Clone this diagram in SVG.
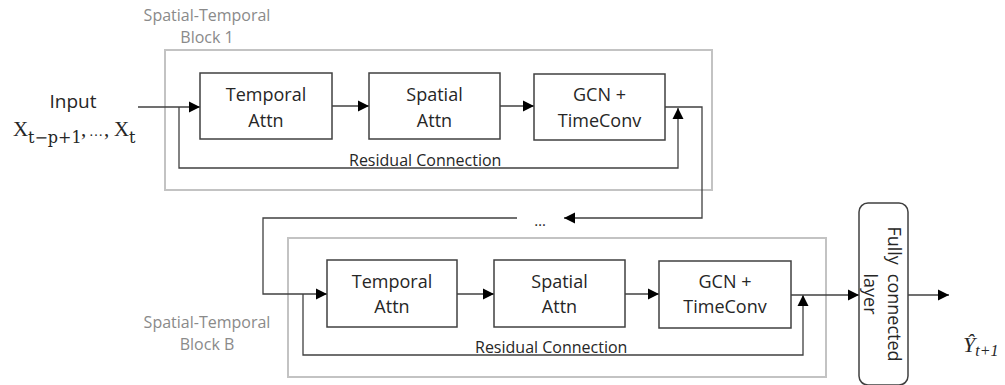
<svg xmlns="http://www.w3.org/2000/svg" width="1005" height="385" viewBox="0 0 1005 385">
  <style>
    .block { fill: none; stroke: #c3c3c3; stroke-width: 2; }
    .box { fill: #ffffff; stroke: #404040; stroke-width: 1.5; }
    .fc { fill: #ffffff; stroke: #404040; stroke-width: 1.5; }
    .wire { fill: none; stroke: #404040; stroke-width: 1.3; }
    .lbl { font-family: "Open Sans", "Noto Sans", sans-serif; font-size: 18px; fill: #262626; text-anchor: middle; }
    .grey { font-family: "Open Sans", "Noto Sans", sans-serif; font-size: 16px; fill: #8a8a8a; text-anchor: middle; }
    .res { font-family: "Open Sans", "Noto Sans", sans-serif; font-size: 16px; fill: #262626; }
    .math { font-family: "Liberation Serif", "DejaVu Serif", serif; fill: #262626; }
    .sub { font-family: "DejaVu Serif", "Liberation Serif", serif; font-size: 16px; }
  </style>
  <defs>
    <marker id="arrow" markerUnits="userSpaceOnUse" markerWidth="12" markerHeight="12" refX="11" refY="6" orient="auto">
      <path d="M0,0.5 L11,6 L0,11.5 z" fill="#000000"/>
    </marker>
  </defs>

  <!-- block outlines and their captions -->
  <g id="block-1">
    <rect class="block" x="165" y="50" width="547" height="140"/>
    <text class="grey" x="207" y="21">Spatial-Temporal</text>
    <text class="grey" x="207" y="43">Block 1</text>
  </g>
  <g id="block-b">
    <rect class="block" x="288" y="238" width="538" height="139"/>
    <text class="grey" x="207" y="328">Spatial-Temporal</text>
    <text class="grey" x="207" y="350">Block B</text>
  </g>

  <!-- input -->
  <g id="input">
    <text class="lbl" x="73" y="108" style="font-size:19px">Input</text>
    <text class="math" style="font-size:21px"><tspan x="13" y="136">X</tspan><tspan class="sub" x="28" y="143">t−p+1</tspan><tspan x="81" y="136">,</tspan><tspan x="89" y="136" font-size="14">…</tspan><tspan x="104" y="136">,</tspan><tspan x="114" y="136">X</tspan><tspan class="sub" x="129" y="143">t</tspan></text>
  </g>

  <!-- connectors -->
  <g id="connectors">
    <path class="wire" d="M138,107 H200" marker-end="url(#arrow)"/>
    <path class="wire" d="M179,107 V168 H678 V108" marker-end="url(#arrow)"/>
    <path class="wire" d="M332,106 H369" marker-end="url(#arrow)"/>
    <path class="wire" d="M500,106 H534" marker-end="url(#arrow)"/>
    <path class="wire" d="M665,107 H702 V218 H564" marker-end="url(#arrow)"/>
    <path class="wire" d="M517,218 H263 V294 H327" marker-end="url(#arrow)"/>
    <path class="wire" d="M303,294 V355 H803 V295" marker-end="url(#arrow)"/>
    <path class="wire" d="M457,294 H494" marker-end="url(#arrow)"/>
    <path class="wire" d="M625,294 H659" marker-end="url(#arrow)"/>
    <path class="wire" d="M791,295 H859" marker-end="url(#arrow)"/>
    <path class="wire" d="M908,295 H949" marker-end="url(#arrow)"/>
    <text class="res" x="349" y="166">Residual Connection</text>
    <text class="res" x="475" y="353">Residual Connection</text>
    <text class="lbl" x="540" y="226" style="font-size:15px">…</text>
  </g>

  <!-- block 1 nodes -->
  <g id="temporal-attn-1">
    <rect class="box" x="200" y="73" width="132" height="66"/>
    <text class="lbl" x="266" y="101">Temporal</text>
    <text class="lbl" x="266" y="127">Attn</text>
  </g>
  <g id="spatial-attn-1">
    <rect class="box" x="369" y="73" width="131" height="66"/>
    <text class="lbl" x="434.5" y="101">Spatial</text>
    <text class="lbl" x="434.5" y="127">Attn</text>
  </g>
  <g id="gcn-timeconv-1">
    <rect class="box" x="534" y="74" width="131" height="66"/>
    <text class="lbl" x="599.5" y="101">GCN +</text>
    <text class="lbl" x="599.5" y="127">TimeConv</text>
  </g>

  <!-- block B nodes -->
  <g id="temporal-attn-b">
    <rect class="box" x="327" y="260" width="130" height="67"/>
    <text class="lbl" x="392" y="288">Temporal</text>
    <text class="lbl" x="392" y="313">Attn</text>
  </g>
  <g id="spatial-attn-b">
    <rect class="box" x="494" y="260" width="131" height="67"/>
    <text class="lbl" x="559.5" y="288">Spatial</text>
    <text class="lbl" x="559.5" y="313">Attn</text>
  </g>
  <g id="gcn-timeconv-b">
    <rect class="box" x="659" y="261" width="132" height="67"/>
    <text class="lbl" x="725" y="288">GCN +</text>
    <text class="lbl" x="725" y="313">TimeConv</text>
  </g>

  <!-- fully connected output layer -->
  <g id="fully-connected">
    <rect class="fc" x="859" y="203" width="49" height="182" rx="9" ry="9"/>
    <text class="lbl" transform="translate(888,294) rotate(90)">Fully<tspan dx="9">connected</tspan></text>
    <text class="lbl" transform="translate(864,294) rotate(90)">layer</text>
  </g>

  <!-- prediction -->
  <g id="output">
    <text class="math" x="963" y="352" style="font-size:22px;font-style:italic">Ŷ<tspan font-size="16" dy="4">t+1</tspan></text>
  </g>
</svg>
